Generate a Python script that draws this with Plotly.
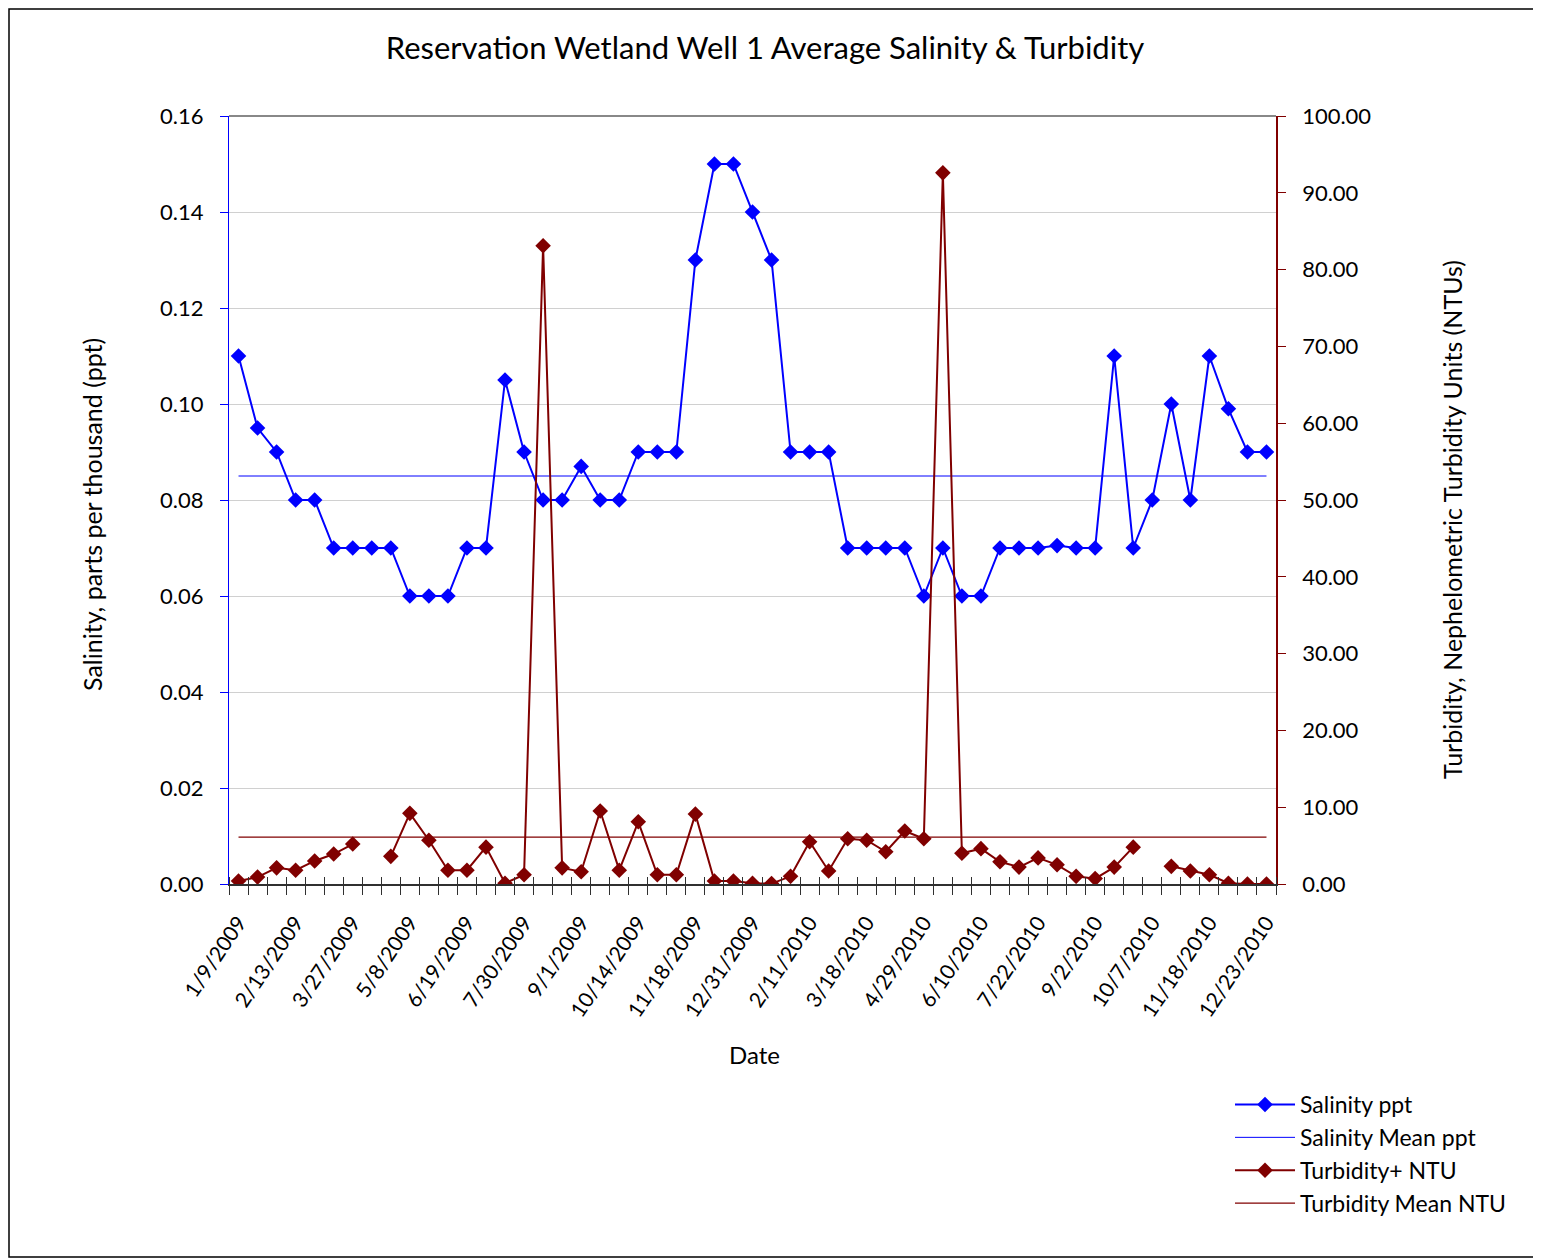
import plotly.graph_objects as go

# ---- data ----
TICK_LABELS = ["1/9/2009", "2/13/2009", "3/27/2009", "5/8/2009", "6/19/2009", "7/30/2009",
               "9/1/2009", "10/14/2009", "11/18/2009", "12/31/2009", "2/11/2010", "3/18/2010",
               "4/29/2010", "6/10/2010", "7/22/2010", "9/2/2010", "10/7/2010", "11/18/2010",
               "12/23/2010"]
TICK_EVERY = 3

SALINITY = [0.110, 0.095, 0.090, 0.080, 0.080, 0.070, 0.070, 0.070, 0.070, 0.060,
            0.060, 0.060, 0.070, 0.070, 0.105, 0.090, 0.080, 0.080, 0.087, 0.080,
            0.080, 0.090, 0.090, 0.090, 0.130, 0.150, 0.150, 0.140, 0.130, 0.090,
            0.090, 0.090, 0.070, 0.070, 0.070, 0.070, 0.060, 0.070, 0.060, 0.060,
            0.070, 0.070, 0.070, 0.0705, 0.070, 0.070, 0.110, 0.070, 0.080, 0.100,
            0.080, 0.110, 0.099, 0.090, 0.090]

TURBIDITY = [0.4, 0.9, 2.1, 1.8, 3.0, 3.9, 5.2, None, 3.6, 9.2,
             5.7, 1.8, 1.8, 4.8, 0.1, 1.2, 83.1, 2.1, 1.6, 9.5,
             1.8, 8.1, 1.2, 1.2, 9.1, 0.4, 0.4, 0.1, 0.05, 1.0,
             5.5, 1.7, 5.9, 5.7, 4.2, 6.9, 5.9, 92.6, 4.0, 4.6,
             2.9, 2.2, 3.4, 2.5, 1.0, 0.7, 2.2, 4.8, None, 2.3,
             1.7, 1.2, 0.1, 0.0, 0.0]

SALINITY_MEAN = 0.085
TURBIDITY_MEAN = 6.1

BLUE = "#0000FF"
RED = "#800000"
FONT = "Lato, 'Open Sans', sans-serif"

n = len(SALINITY)
x = list(range(n))
tickvals = x[::TICK_EVERY]

fig = go.Figure()
fig.add_trace(go.Scatter(x=x, y=SALINITY, name="Salinity ppt", mode="lines+markers",
                         line=dict(color=BLUE, width=2),
                         marker=dict(symbol="diamond", size=12, color=BLUE)))
fig.add_trace(go.Scatter(x=x, y=[SALINITY_MEAN] * n, name="Salinity Mean ppt", mode="lines",
                         line=dict(color=BLUE, width=1)))
fig.add_trace(go.Scatter(x=x, y=TURBIDITY, name="Turbidity+ NTU", mode="lines+markers",
                         line=dict(color=RED, width=2), connectgaps=False,
                         marker=dict(symbol="diamond", size=12, color=RED), yaxis="y2"))
fig.add_trace(go.Scatter(x=x, y=[TURBIDITY_MEAN] * n, name="Turbidity Mean NTU", mode="lines",
                         line=dict(color=RED, width=1.2), yaxis="y2"))
# invisible trace to anchor the overlay x-axis used for crossing ticks
fig.add_trace(go.Scatter(x=[x[0]], y=[0], xaxis="x2", mode="markers",
                         marker=dict(opacity=0), showlegend=False, hoverinfo="skip"))

# page has an 8px body margin; figure is sized / positioned to compensate
OFF = 8
W, H = 1541 - OFF, 1260 - OFF
# plot area in page pixels: left 229, right 1276, top 116, bottom 884
L, T = 229 - OFF, 116 - OFF
R = W - (1276 - OFF)
B = H - (884 - OFF)
pw, ph = W - L - R, H - T - B


def px(page_x):
    return (page_x - OFF - L) / pw


def py(page_y):
    return (H - B - (page_y - OFF)) / ph


xr = [-0.5, n - 0.5]
fig.update_layout(
    width=W, height=H,
    margin=dict(l=L, r=R, t=T, b=B),
    paper_bgcolor="white", plot_bgcolor="white",
    font=dict(family=FONT, size=21, color="black"),
    showlegend=True,
    title=dict(text="Reservation Wetland Well 1 Average Salinity & Turbidity",
               x=(765 - OFF) / W, xanchor="center", y=1 - (48 - OFF) / H, yanchor="middle",
               font=dict(size=31, family=FONT)),
    xaxis=dict(range=xr, tickmode="array", tickvals=tickvals, ticktext=TICK_LABELS,
               tickangle=-56, ticks="", showgrid=False, zeroline=False,
               showline=True, linecolor="#303030", linewidth=2,
               tickfont=dict(size=21), ticklabelstandoff=16,
               minor=dict(tickmode="linear", tick0=-0.5, dtick=1, ticks="outside",
                          ticklen=9, tickcolor="#303030", tickwidth=1, showgrid=False)),
    xaxis2=dict(range=xr, overlaying="x", anchor="y", side="bottom", showticklabels=False,
                ticks="", showgrid=False, zeroline=False, showline=False,
                minor=dict(tickmode="linear", tick0=-0.5, dtick=1, ticks="inside",
                           ticklen=7, tickcolor="#303030", tickwidth=1, showgrid=False)),
    yaxis=dict(range=[0, 0.16], dtick=0.02, tickformat=".2f", showgrid=True,
               gridcolor="#D0D0D0", gridwidth=1, zeroline=False,
               showline=True, linecolor=BLUE, linewidth=1, tickfont=dict(size=22),
               ticks="outside", ticklen=8, tickcolor=BLUE, ticklabelstandoff=12),
    yaxis2=dict(range=[0, 100], dtick=10, tickformat=".2f", overlaying="y", side="right",
                showgrid=False, zeroline=False, showline=True, linecolor=RED, linewidth=1.5,
                tickfont=dict(size=22),
                ticks="outside", ticklen=8, tickcolor=RED, ticklabelstandoff=12),
    legend=dict(x=px(1230), y=py(1083), xanchor="left", yanchor="top",
                font=dict(size=23), tracegroupgap=2, itemwidth=60,
                bgcolor="rgba(0,0,0,0)"),
    shapes=[
        dict(type="line", xref="paper", yref="paper", x0=0, x1=1, y0=1, y1=1,
             line=dict(color="#888888", width=2)),
        dict(type="rect", xref="paper", yref="paper", x0=px(OFF + 1), x1=px(1539),
             y0=py(1257), y1=py(OFF + 1), line=dict(color="black", width=1.5)),
    ],
    annotations=[
        dict(text="Salinity, parts per thousand (ppt)", xref="paper", yref="paper",
             x=px(92), y=py(515), textangle=-90, showarrow=False,
             font=dict(size=25), xanchor="center", yanchor="middle"),
        dict(text="Turbidity, Nephelometric Turbidity Units (NTUs)", xref="paper", yref="paper",
             x=px(1452), y=py(520), textangle=-90, showarrow=False,
             font=dict(size=25), xanchor="center", yanchor="middle"),
        dict(text="Date", xref="paper", yref="paper", x=px(754), y=py(1054),
             showarrow=False, font=dict(size=24), xanchor="center", yanchor="middle"),
    ],
)

fig.write_html("out.html")
